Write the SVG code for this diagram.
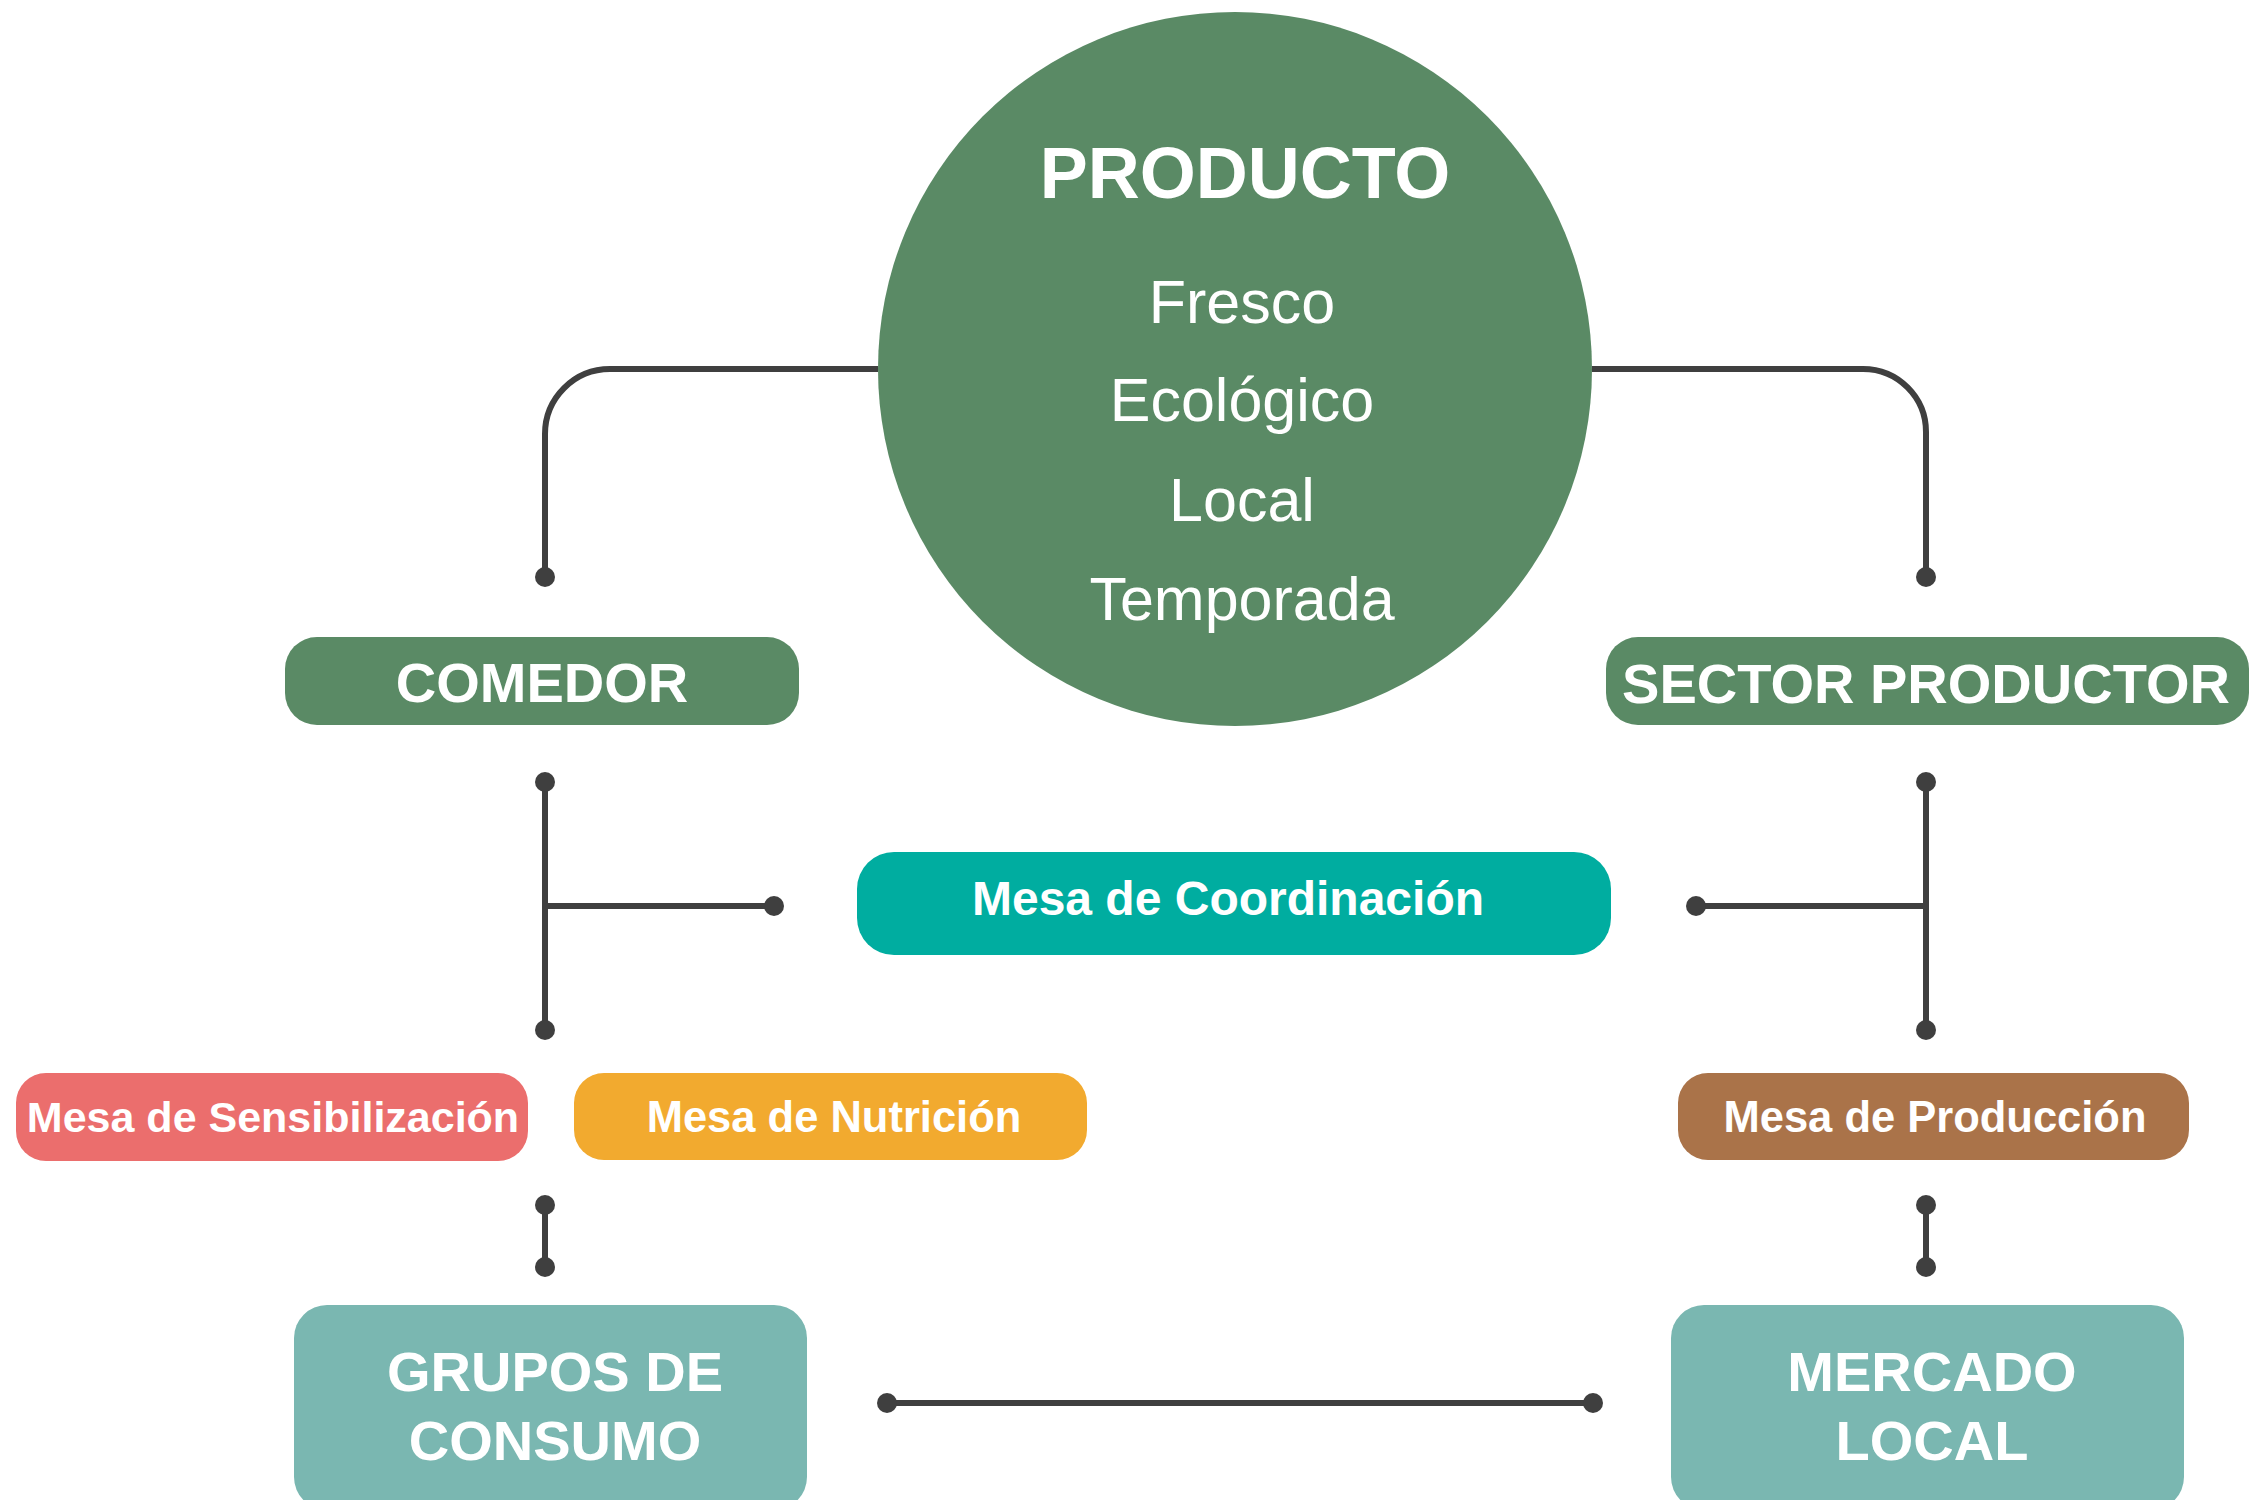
<svg xmlns="http://www.w3.org/2000/svg" width="2263" height="1500" viewBox="0 0 2263 1500">
<style>
.ln{fill:none;stroke:#3f3f3f;stroke-width:6}
.dot{fill:#3f3f3f}
.t{font-family:"Liberation Sans",Arial,sans-serif;fill:#ffffff;text-anchor:middle}
.b{font-weight:bold}
</style>
<rect width="2263" height="1500" fill="#ffffff"/>
<g id="connectors">
<path class="ln" d="M878,369 H610 A65,65 0 0 0 545,434 V577"/>
<path class="ln" d="M1592,369 H1863 A63,63 0 0 1 1926,432 V577"/>
<path class="ln" d="M545,782 V1030 M545,906 H774"/>
<path class="ln" d="M1926,782 V1030 M1926,906 H1696"/>
<path class="ln" d="M545,1205 V1267"/>
<path class="ln" d="M1926,1205 V1267"/>
<path class="ln" d="M887,1403 H1593"/>
<circle class="dot" cx="545" cy="577" r="10"/>
<circle class="dot" cx="1926" cy="577" r="10"/>
<circle class="dot" cx="545" cy="782" r="10"/>
<circle class="dot" cx="545" cy="1030" r="10"/>
<circle class="dot" cx="774" cy="906" r="10"/>
<circle class="dot" cx="1926" cy="782" r="10"/>
<circle class="dot" cx="1926" cy="1030" r="10"/>
<circle class="dot" cx="1696" cy="906" r="10"/>
<circle class="dot" cx="545" cy="1205" r="10"/>
<circle class="dot" cx="545" cy="1267" r="10"/>
<circle class="dot" cx="1926" cy="1205" r="10"/>
<circle class="dot" cx="1926" cy="1267" r="10"/>
<circle class="dot" cx="887" cy="1403" r="10"/>
<circle class="dot" cx="1593" cy="1403" r="10"/>
</g>
<g id="producto">
<circle cx="1235" cy="369" r="357" fill="#5a8a65"/>
<text class="t b" x="1245" y="198" font-size="72">PRODUCTO</text>
<text class="t" x="1242" y="323" font-size="61">Fresco</text>
<text class="t" x="1242" y="421" font-size="61">Ecológico</text>
<text class="t" x="1242" y="521" font-size="61">Local</text>
<text class="t" x="1242" y="620" font-size="61">Temporada</text>
</g>
<g id="comedor">
<rect x="285" y="637" width="514" height="88" rx="32" fill="#5a8a65"/>
<text class="t b" x="542" y="702" font-size="56">COMEDOR</text>
</g>
<g id="sector-productor">
<rect x="1606" y="637" width="643" height="88" rx="32" fill="#5a8a65"/>
<text class="t b" x="1926" y="703" font-size="56">SECTOR PRODUCTOR</text>
</g>
<g id="mesa-coordinacion">
<rect x="857" y="852" width="754" height="103" rx="37" fill="#00ada0"/>
<text class="t b" x="1228" y="915" font-size="48">Mesa de Coordinación</text>
</g>
<g id="mesa-sensibilizacion">
<rect x="16" y="1073" width="512" height="88" rx="30" fill="#eb6e6d"/>
<text class="t b" x="273" y="1132" font-size="43">Mesa de Sensibilización</text>
</g>
<g id="mesa-nutricion">
<rect x="574" y="1073" width="513" height="87" rx="30" fill="#f2aa2f"/>
<text class="t b" x="834" y="1132" font-size="43.5">Mesa de Nutrición</text>
</g>
<g id="mesa-produccion">
<rect x="1678" y="1073" width="511" height="87" rx="30" fill="#aa7349"/>
<text class="t b" x="1935" y="1132" font-size="43.5">Mesa de Producción</text>
</g>
<g id="grupos-consumo">
<rect x="294" y="1305" width="513" height="205" rx="33" fill="#7ab7b1"/>
<text class="t b" x="555" y="1391" font-size="56">GRUPOS DE</text>
<text class="t b" x="555" y="1460" font-size="56">CONSUMO</text>
</g>
<g id="mercado-local">
<rect x="1671" y="1305" width="513" height="205" rx="33" fill="#7ab7b1"/>
<text class="t b" x="1932" y="1391" font-size="56">MERCADO</text>
<text class="t b" x="1932" y="1460" font-size="56">LOCAL</text>
</g>
</svg>
